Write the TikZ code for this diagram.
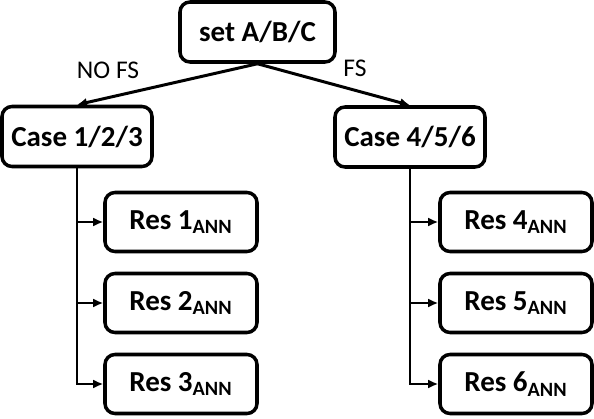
\documentclass[tikz,border=0pt]{standalone}
\usepackage{fontspec}
\setmainfont{Carlito}
\usetikzlibrary{arrows.meta}

\begin{document}
\begin{tikzpicture}[
  box/.style={font={\bfseries\fontsize{16.5}{19}\selectfont},draw,rectangle,rounded corners=0.2cm,minimum width=3cm,minimum height=1.2cm,text centered,line width=2pt},
  resbox/.style={box,minimum width=3.04cm,minimum height=1.18cm},
  lbl/.style={font={\fontsize{14.5}{17}\selectfont}},
  conn/.style={line width=1.7pt,-{Latex[length=0.2cm,width=0.18cm]}}]

\useasboundingbox (0,0) rectangle (11.88,8.36);

\node[box,minimum width=3.1cm] (set) at (5.15,7.72) {set A/B/C};

\node[box] (case1) at (1.54,5.63) {Case 1/2/3};
\node[box] (case4) at (8.2,5.62) {Case 4/5/6};

\node[resbox] (res1) at (3.62,3.92) {Res 1\textsubscript{ANN}};
\node[resbox] (res2) at (3.62,2.30) {Res 2\textsubscript{ANN}};
\node[resbox] (res3) at (3.62,0.68) {Res 3\textsubscript{ANN}};

\node[resbox] (res4) at (10.32,3.92) {Res 4\textsubscript{ANN}};
\node[resbox] (res5) at (10.32,2.30) {Res 5\textsubscript{ANN}};
\node[resbox] (res6) at (10.32,0.68) {Res 6\textsubscript{ANN}};

\node[lbl] (nofs) at (2.16,6.96) {NO FS};
\node[lbl] (fs) at (7.1,7.0) {FS};

\draw[conn] (set.south) -- (case1.north);
\draw[conn] (set.south) -- (case4.north);

\foreach \i in {1,2,3}
  \draw[conn] (case1.south) |- (res\i.west);
\foreach \i in {4,5,6}
  \draw[conn] (case4.south) |- (res\i.west);

\end{tikzpicture}
\end{document}
